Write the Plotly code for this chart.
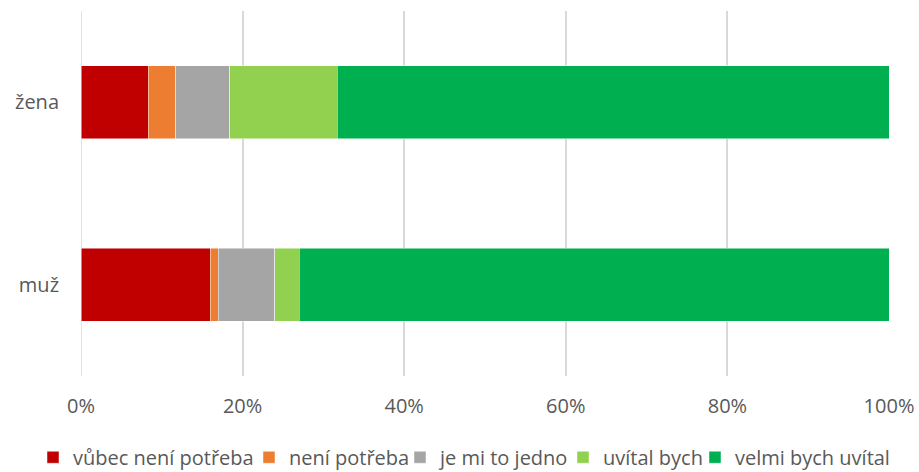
import plotly.graph_objects as go

# Share of responses (%) per respondent group
categories = ["muž", "žena"]
series_names = ["vůbec není potřeba", "není potřeba", "je mi to jedno", "uvítal bych", "velmi bych uvítal"]
values = {
    "vůbec není potřeba": [16.0, 8.3],
    "není potřeba": [1.0, 3.4],
    "je mi to jedno": [7.0, 6.7],
    "uvítal bych": [3.0, 13.3],
    "velmi bych uvítal": [73.0, 68.3],
}
colors = ["#C00000", "#ED7D31", "#A5A5A5", "#92D050", "#00B050"]
x_ticks = [0, 20, 40, 60, 80, 100]

# left edge (px) of each legend entry along the bottom row
legend_left_px = [33, 249, 400, 563, 695]
legend_center_px = 458

font_family = "'Open Sans', 'Noto Sans', sans-serif"
text_color = "#595959"

W, H = 919, 472
M_L, M_R, M_T, M_B = 81, 30, 10.5, 95.5
plot_w = W - M_L - M_R
plot_h = H - M_T - M_B

fig = go.Figure()
legend_layouts = {}
for i, (name, color) in enumerate(zip(series_names, colors)):
    legend_id = "legend" if i == 0 else f"legend{i + 1}"
    fig.add_trace(go.Bar(
        y=categories,
        x=values[name],
        name=name,
        orientation="h",
        marker=dict(color=color, line=dict(color="rgba(255,255,255,0.6)", width=0.8)),
        width=0.4,
        legend=legend_id,
    ))
    legend_layouts[legend_id] = dict(
        orientation="h",
        x=(legend_left_px[i] - M_L) / plot_w,
        xanchor="left",
        y=(M_T + plot_h - legend_center_px) / plot_h,
        yanchor="middle",
        font=dict(family=font_family, size=20, color=text_color),
        itemwidth=30,
        borderwidth=0,
        bgcolor="rgba(0,0,0,0)",
    )

fig.update_layout(
    barmode="stack",
    width=W,
    height=H,
    margin=dict(l=M_L, r=M_R, t=M_T, b=M_B, autoexpand=False),
    paper_bgcolor="white",
    plot_bgcolor="white",
    font=dict(family=font_family, size=20, color=text_color),
    showlegend=True,
    xaxis=dict(
        range=[0, 100],
        tickvals=x_ticks,
        ticktext=[f"{v}%" for v in x_ticks],
        showgrid=True,
        gridcolor="#D9D9D9",
        gridwidth=1.5,
        zeroline=False,
        showline=False,
        ticks="",
        ticklabelstandoff=16,
        fixedrange=True,
    ),
    yaxis=dict(
        categoryorder="array",
        categoryarray=categories,
        range=[-0.5, 1.5],
        showgrid=False,
        zeroline=False,
        showline=False,
        ticks="",
        ticklabelstandoff=21,
        fixedrange=True,
    ),
    **legend_layouts,
)

fig.add_shape(type="line", xref="x", yref="paper", x0=0, x1=0, y0=0, y1=1,
              line=dict(color="#D9D9D9", width=1.5), layer="below")

fig.write_html("out.html")
